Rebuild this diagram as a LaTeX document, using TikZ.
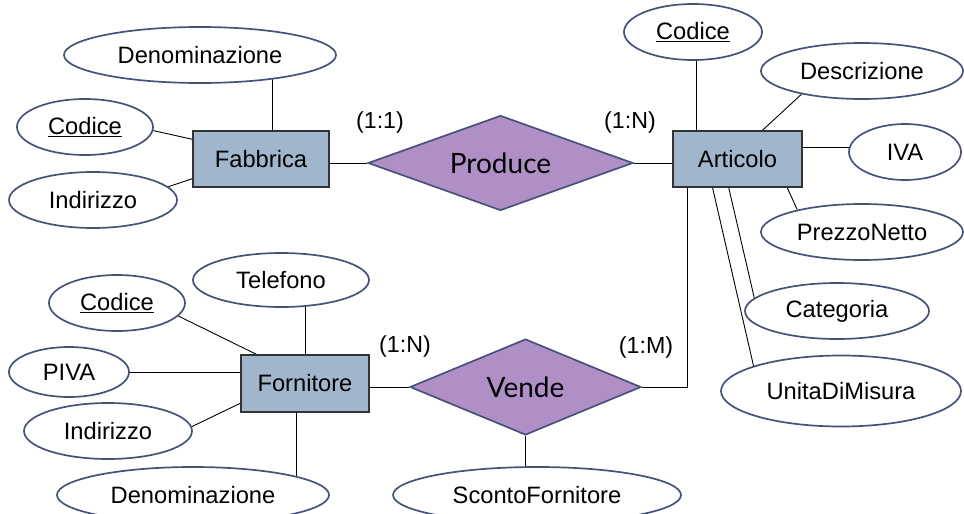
\documentclass[tikz,border=0pt]{standalone}
\usepackage{fontspec}
\setmainfont{Liberation Sans}
\newfontfamily\relfont{Lato}
\usepackage{xcolor}
\usepackage{tikz}
\usetikzlibrary{shapes.geometric}
\usetikzlibrary{backgrounds}
\definecolor{entfill}{RGB}{160,182,204}
\definecolor{relfill}{RGB}{176,143,199}
\definecolor{bordo}{RGB}{70,82,122}
\tikzset{link/.style = {-, black, line width=0.9pt}}

\begin{document}
\begin{tikzpicture}[x=1pt,y=-1pt,inner sep=0pt,
  entity/.style={rectangle,draw=black!80,fill=entfill,line width=1.4pt,font=\fontsize{23.7}{28}\selectfont},
  attr/.style={ellipse,draw=bordo,fill=white,line width=1.7pt,minimum height=56,font=\fontsize{23.7}{28}\selectfont},
  rel/.style={diamond,shape aspect=2.8,draw=bordo,fill=relfill,line width=1.7pt,font=\relfont\fontsize{28}{32}\selectfont},
  card/.style={font=\fontsize{23.2}{28}\selectfont}]
                \useasboundingbox (0,0) rectangle (964,514);

                \node[entity] (fab) [minimum width=136, minimum height=56] at (261,159) {Fabbrica};
                \node[entity] (art) [minimum width=129, minimum height=56] at (737.5,159) {Articolo};
                \node[entity] (forn) [minimum width=128, minimum height=57] at (305,383.5) {Fornitore};
                \node[rel] (prod) [minimum width=265, minimum height=95] at (500.5,163) {Produce};
                \node[rel] (vende) [minimum width=231, minimum height=96] at (525.5,387) {Vende};

                \node[attr] (den1) [minimum width=272] at (200,55) {Denominazione};
                \node[attr] (cod1) [minimum width=136] at (85,127) {\underline{Codice}};
                \node[attr] (ind1) [minimum width=168] at (93,200) {Indirizzo};

                \node[attr] (cod2) [minimum width=138] at (693,32) {\underline{Codice}};
                \node[attr] (des) [minimum width=202] at (862,71) {Descrizione};
                \node[attr] (iva) [minimum width=112] at (905,152) {IVA};
                \node[attr] (prz) [minimum width=202] at (862,232) {PrezzoNetto};
                \node[attr] (cat) [minimum width=184] at (837,311) {Categoria};
                \node[attr] (unit) [minimum width=240, minimum height=71] at (841,391) {UnitaDiMisura};

                \node[attr] (tel) [minimum width=176, minimum height=54] at (281,280) {Telefono};
                \node[attr] (cod3) [minimum width=136] at (117,303) {\underline{Codice}};
                \node[attr] (piva) [minimum width=120, minimum height=50] at (69,372) {PIVA};
                \node[attr] (ind2) [minimum width=168] at (108,431) {Indirizzo};
                \node[attr] (den2) [minimum width=272] at (193,495) {Denominazione};
                \node[attr] (sco) [minimum width=288] at (537,495) {ScontoFornitore};

                \node[card] (c1) at (380,122) {(1:1)};
                \node[card] (c2) at (630,122) {(1:N)};
                \node[card] (c3) at (405,346) {(1:N)};
                \node[card] (c4) at (646,347) {(1:M)};

                \begin{pgfonlayer}{background}
                \path[link]
                    (fab.68) edge (fab.68 |- den1.center)
                    (fab.164) edge (cod1.357)
                    (fab.196) edge (ind1.10)
                    (fab.east |- prod.west) edge (prod.west)
                    (prod.east) edge (prod.east -| art.west)
                    (art.145) edge (art.145 |- cod2.center)
                    (art.49) edge (des.201)
                    (art.10) edge (art.10 -| iva.center)
                    (art.330) edge (prz.161)
                    (art.253) edge (cat.171)
                    (art.229) edge (unit.164)
                    (art.210) edge[to path={|- (\tikztotarget)}] (vende.east)
                    (forn.north) edge (forn.north |- tel.center)
                    (forn.149) edge (cod3.348)
                    (forn.west |- piva.east) edge (piva.east)
                    (forn.197) edge (ind2.3)
                    (forn.254) edge (forn.254 |- den2.center)
                    (forn.east |- vende.west) edge (vende.west)
                    (vende.south) edge (vende.south |- sco.center)
                    ;
                \end{pgfonlayer}
            \end{tikzpicture}
\end{document}
